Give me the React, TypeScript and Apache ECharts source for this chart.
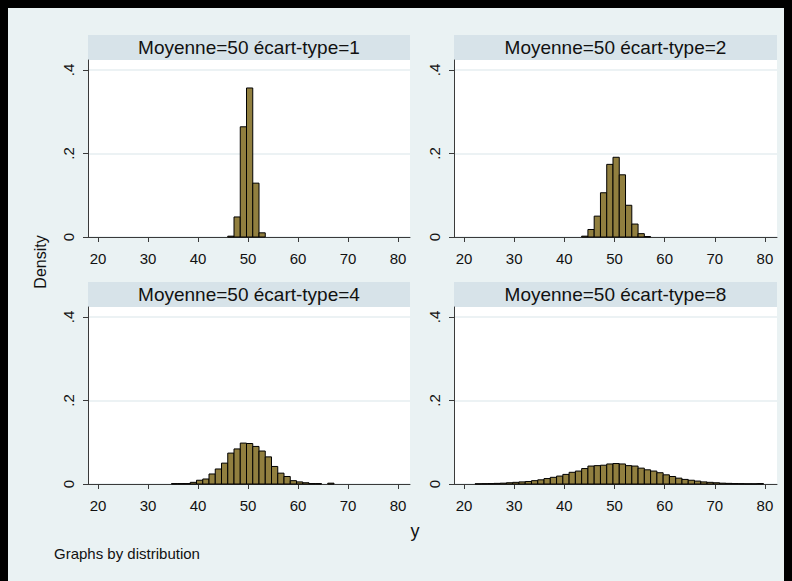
import React, { useEffect, useRef } from "react";
import * as echarts from "echarts";

// Histogram bins shared by all four panels
const BIN_START = 18.45;
const BIN_WIDTH = 1.25;

// Panel titles
const panelTitles = [
  "Moyenne=50 écart-type=1",
  "Moyenne=50 écart-type=2",
  "Moyenne=50 écart-type=4",
  "Moyenne=50 écart-type=8",
];

// Densities per bin, starting at the given bin index
const sd1FirstBin = 22;
const sd1Density = [0.002, 0.048, 0.264, 0.357, 0.129, 0.01];

const sd2FirstBin = 20;
const sd2Density = [0.002, 0.018, 0.05, 0.106, 0.174, 0.191, 0.149, 0.076, 0.031, 0.008, 0.001];

const sd4FirstBin = 13;
const sd4Density = [
  0.001, 0.001, 0.001, 0.004, 0.009, 0.012, 0.024, 0.036, 0.05, 0.074, 0.084, 0.098,
  0.097, 0.09, 0.079, 0.065, 0.042, 0.026, 0.018, 0.008, 0.005, 0.003, 0.001, 0.001,
  0, 0.002,
];

const sd8FirstBin = 3;
const sd8Density = [
  0.0005, 0.0008, 0.001, 0.0015, 0.002, 0.003, 0.004, 0.005, 0.006, 0.008, 0.01, 0.013,
  0.016, 0.019, 0.023, 0.028, 0.031, 0.037, 0.043, 0.044, 0.045, 0.048, 0.049, 0.048,
  0.044, 0.043, 0.038, 0.034, 0.031, 0.027, 0.022, 0.018, 0.014, 0.011, 0.009, 0.007,
  0.005, 0.004, 0.003, 0.002, 0.0015, 0.001, 0.0008, 0.0005, 0.0005, 0.001,
];

// Axis ticks
const xTicks = [20, 30, 40, 50, 60, 70, 80];
const yTicks = [0, 0.2, 0.4];

const FONT = "'Liberation Sans', Arial, Helvetica, sans-serif";
const BG = "#eaf2f3";
const STRIP = "#d7e3e9";
const BAR_FILL = "#917f3f";
const AXIS = "#3a3a3a";
const GRID_LINE = "#e6eef1";

// Panel boxes in chart pixels
const panels = [
  { left: 80, top: 52, width: 322, height: 177 },
  { left: 446, top: 52, width: 323, height: 177 },
  { left: 80, top: 299, width: 322, height: 177 },
  { left: 446, top: 299, width: 323, height: 177 },
];
const STRIP_H = 25;

function toBars(firstBin: number, values: number[]) {
  const out: number[][] = [];
  values.forEach((v, i) => {
    if (v <= 0) return;
    const k = firstBin + i;
    const x0 = BIN_START + k * BIN_WIDTH;
    out.push([x0, x0 + BIN_WIDTH, v]);
  });
  return out;
}

export default function App() {
  const ref = useRef<HTMLDivElement>(null);

  useEffect(() => {
    document.body.style.background = "#000";
    if (!ref.current) return;
    const chart = echarts.init(ref.current, undefined, { renderer: "svg" });

    const datasets = [
      toBars(sd1FirstBin, sd1Density),
      toBars(sd2FirstBin, sd2Density),
      toBars(sd4FirstBin, sd4Density),
      toBars(sd8FirstBin, sd8Density),
    ];

    const grids = panels.map((p) => ({
      left: p.left,
      top: p.top,
      width: p.width,
      height: p.height,
      show: true,
      backgroundColor: "#ffffff",
      borderWidth: 0,
    }));

    const xAxes = panels.map((_, i) => ({
      gridIndex: i,
      type: "value",
      min: 18,
      max: 82.4,
      axisLine: { show: true, onZero: false, lineStyle: { color: AXIS, width: 1 } },
      axisTick: { show: true, length: 5, customValues: xTicks, lineStyle: { color: AXIS } },
      axisLabel: {
        customValues: xTicks,
        color: "#111",
        fontSize: 15,
        fontFamily: FONT,
        margin: 14,
      },
      splitLine: { show: false },
    }));

    const yAxes = panels.map((_, i) => ({
      gridIndex: i,
      type: "value",
      min: 0,
      max: 0.424,
      axisLine: { show: true, lineStyle: { color: AXIS, width: 1 } },
      axisTick: { show: true, length: 5, customValues: yTicks, lineStyle: { color: AXIS } },
      axisLabel: {
        customValues: yTicks,
        rotate: 90,
        color: "#111",
        fontSize: 15,
        fontFamily: FONT,
        margin: 12,
        formatter: (v: number) => (v === 0 ? "0" : String(v).replace(/^0/, "")),
      },
      splitLine: { show: true, lineStyle: { color: GRID_LINE, width: 1.5 } },
    }));

    const series = datasets.map((data, i) => ({
      type: "custom",
      xAxisIndex: i,
      yAxisIndex: i,
      data,
      encode: { x: [0, 1], y: 2 },
      renderItem: (_params: any, api: any) => {
        const x0 = api.value(0);
        const x1 = api.value(1);
        const h = api.value(2);
        const pTop = api.coord([x0, h]);
        const pBot = api.coord([x1, 0]);
        return {
          type: "rect",
          shape: {
            x: pTop[0],
            y: pTop[1],
            width: pBot[0] - pTop[0],
            height: pBot[1] - pTop[1],
          },
          style: { fill: BAR_FILL, stroke: "#000", lineWidth: 1 },
        };
      },
    }));

    const graphics: any[] = [];
    panels.forEach((p, i) => {
      graphics.push({
        type: "rect",
        left: p.left,
        top: p.top - STRIP_H,
        shape: { width: p.width, height: STRIP_H },
        style: { fill: STRIP },
        silent: true,
      });
      graphics.push({
        type: "text",
        x: p.left + p.width / 2,
        y: p.top - STRIP_H / 2,
        style: {
          text: panelTitles[i],
          fill: "#111",
          font: `19px ${FONT}`,
          align: "center",
          verticalAlign: "middle",
        },
        silent: true,
      });
    });
    graphics.push({
      type: "text",
      x: 32,
      y: 254,
      rotation: Math.PI / 2,
      style: {
        text: "Density",
        fill: "#111",
        font: `16px ${FONT}`,
        align: "center",
        verticalAlign: "middle",
      },
    });
    graphics.push({
      type: "text",
      x: 407,
      y: 523,
      style: {
        text: "y",
        fill: "#111",
        font: `18px ${FONT}`,
        align: "center",
        verticalAlign: "middle",
      },
    });
    graphics.push({
      type: "text",
      x: 46,
      y: 545,
      style: {
        text: "Graphs by distribution",
        fill: "#111",
        font: `15px ${FONT}`,
        align: "left",
        verticalAlign: "middle",
      },
    });

    chart.setOption({
      animation: false,
      backgroundColor: BG,
      grid: grids,
      xAxis: xAxes,
      yAxis: yAxes,
      series,
      graphic: graphics,
    });

    return () => chart.dispose();
  }, []);

  return <div ref={ref} style={{ width: 784, height: 573, background: BG }} />;
}
